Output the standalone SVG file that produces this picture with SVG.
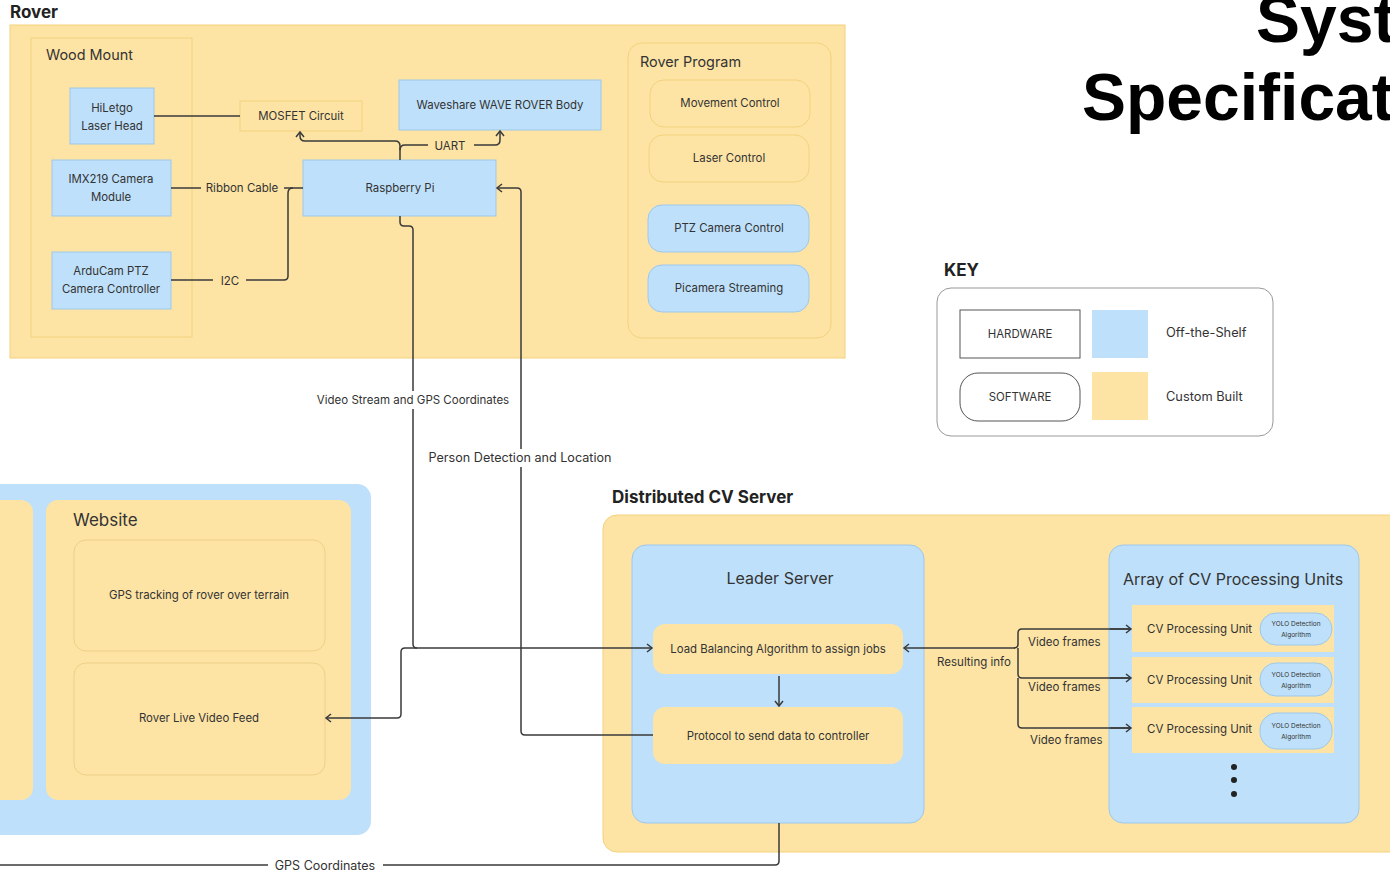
<svg xmlns="http://www.w3.org/2000/svg" width="1390" height="874" viewBox="0 0 1390 874">
<defs>
<style>
text{font-family:Inter,"Liberation Sans",Arial,sans-serif;fill:#333}
.y{fill:#FDE4A5}
.b{fill:#BEE0FA}
.ys{fill:#FDE4A5;stroke:#F2D27C;stroke-width:1}
.bs{fill:#BEE0FA;stroke:#9DC8EA;stroke-width:1}
.t{font-size:11.4px;text-anchor:middle}
.lbl{font-size:11.5px;text-anchor:middle}
.h{font-size:16px}
.c{fill:none;stroke:#3a3a3a;stroke-width:1.5}
.vf{font-size:11.5px}
</style>
<marker id="a" markerWidth="10" markerHeight="10" refX="7" refY="5" orient="auto" markerUnits="userSpaceOnUse">
<path d="M2,1 L7,5 L2,9" fill="none" stroke="#3a3a3a" stroke-width="1.5"/>
</marker>
</defs>
<rect width="1390" height="874" fill="#fff"/>

<g id="title">
<text x="1256" y="42" style="font-family:'Liberation Sans',Arial,sans-serif;font-size:66px;font-weight:bold;fill:#000">System</text>
<text x="1082" y="120" style="font-family:'Liberation Sans',Arial,sans-serif;font-size:66px;font-weight:bold;fill:#000">Specifications</text>
</g>

<g id="rover">
<text x="10" y="18" style="font-size:17px;font-weight:bold;fill:#222">Rover</text>
<rect x="10" y="25" width="835" height="333" class="ys"/>
</g>
<g id="wood-mount">
<rect x="31" y="38" width="161" height="299" class="ys"/>
<text x="46" y="60" style="font-size:14.4px">Wood Mount</text>
</g>
<g id="hiletgo">
<rect x="70" y="88" width="84" height="56" class="bs"/>
<text class="t" x="112" y="112">HiLetgo</text>
<text class="t" x="112" y="130">Laser Head</text>
</g>
<g id="imx219">
<rect x="52" y="160" width="119" height="56" class="bs"/>
<text class="t" x="111" y="183">IMX219 Camera</text>
<text class="t" x="111" y="201">Module</text>
</g>
<g id="arducam">
<rect x="52" y="252" width="119" height="57" class="bs"/>
<text class="t" x="111" y="275">ArduCam PTZ</text>
<text class="t" x="111" y="293">Camera Controller</text>
</g>
<g id="mosfet">
<rect x="240" y="101" width="122" height="30" class="ys"/>
<text class="t" x="301" y="120">MOSFET Circuit</text>
</g>
<g id="waveshare">
<rect x="399" y="80" width="202" height="50" class="bs"/>
<text class="t" x="500" y="109">Waveshare WAVE ROVER Body</text>
</g>
<g id="raspberry-pi">
<rect x="303" y="160" width="193" height="56" class="bs"/>
<text class="t" x="400" y="192">Raspberry Pi</text>
</g>
<g id="rover-program">
<rect x="628" y="43" width="203" height="295" rx="14" class="ys"/>
<text x="640" y="67" style="font-size:14.4px">Rover Program</text>
</g>
<g id="movement-control">
<rect x="650" y="80" width="160" height="47" rx="14" class="ys"/>
<text class="t" x="730" y="107">Movement Control</text>
</g>
<g id="laser-control">
<rect x="649" y="135" width="160" height="47" rx="14" class="ys"/>
<text class="t" x="729" y="162">Laser Control</text>
</g>
<g id="ptz-camera-control">
<rect x="648" y="205" width="161" height="47" rx="14" class="bs"/>
<text class="t" x="729" y="232">PTZ Camera Control</text>
</g>
<g id="picamera-streaming">
<rect x="648" y="265" width="161" height="47" rx="14" class="bs"/>
<text class="t" x="729" y="292">Picamera Streaming</text>
</g>

<g id="key">
<text x="944" y="276" style="font-size:17px;font-weight:bold;fill:#222">KEY</text>
<rect x="937" y="288" width="336" height="148" rx="14" fill="#fff" stroke="#999" stroke-width="1"/>
<rect x="960" y="310" width="120" height="48" fill="#fff" stroke="#555" stroke-width="1"/>
<text class="t" x="1020" y="338">HARDWARE</text>
<rect x="960" y="373" width="120" height="48" rx="18" fill="#fff" stroke="#555" stroke-width="1"/>
<text class="t" x="1020" y="401">SOFTWARE</text>
<rect x="1092" y="310" width="56" height="48" class="b"/>
<rect x="1092" y="372" width="56" height="48" class="y"/>
<text x="1166" y="337" style="font-size:12.8px">Off-the-Shelf</text>
<text x="1166" y="401" style="font-size:12.8px">Custom Built</text>
</g>

<g id="website-area">
<rect x="-20" y="484" width="391" height="351" rx="14" class="b"/>
<rect x="-20" y="500" width="53" height="300" rx="12" class="y"/>
</g>
<g id="website">
<rect x="46" y="500" width="305" height="300" rx="12" class="y"/>
<text x="73" y="526" style="font-size:17px">Website</text>
</g>
<g id="gps-tracking">
<rect x="74" y="540" width="251" height="111" rx="12" class="y" stroke="#EDCF86" stroke-width="1"/>
<text class="t" x="199" y="599">GPS tracking of rover over terrain</text>
</g>
<g id="live-video">
<rect x="74" y="663" width="251" height="112" rx="12" class="y" stroke="#EDCF86" stroke-width="1"/>
<text class="t" x="199" y="722">Rover Live Video Feed</text>
</g>

<g id="distributed-cv-server">
<text x="612" y="503" style="font-size:17px;font-weight:bold;fill:#222">Distributed CV Server</text>
<rect x="603" y="515" width="800" height="337" rx="14" class="ys"/>
</g>
<g id="leader-server">
<rect x="632" y="545" width="292" height="278" rx="14" class="bs"/>
<text class="h" x="780" y="584" text-anchor="middle">Leader Server</text>
</g>
<g id="load-balancing">
<rect x="653" y="624" width="250" height="50" rx="12" class="y"/>
<text class="t" x="778" y="653">Load Balancing Algorithm to assign jobs</text>
</g>
<g id="protocol">
<rect x="653" y="707" width="250" height="57" rx="12" class="y"/>
<text class="t" x="778" y="740">Protocol to send data to controller</text>
</g>
<g id="cv-array">
<rect x="1109" y="545" width="250" height="278" rx="14" class="bs"/>
<text class="h" x="1233" y="585" text-anchor="middle">Array of CV Processing Units</text>
<circle cx="1234" cy="767" r="3" fill="#222"/>
<circle cx="1234" cy="780" r="3" fill="#222"/>
<circle cx="1234" cy="794" r="3" fill="#222"/>
</g>
<g id="cv-unit-1">
<rect x="1132" y="605" width="202" height="47" class="y"/>
<text x="1147" y="633" class="vf">CV Processing Unit</text>
<rect x="1260" y="613" width="72" height="32" rx="16" class="bs"/>
<text x="1296" y="626" style="font-size:6.5px" text-anchor="middle">YOLO Detection</text>
<text x="1296" y="637" style="font-size:6.5px" text-anchor="middle">Algorithm</text>
</g>
<g id="cv-unit-2">
<rect x="1132" y="657" width="202" height="46" class="y"/>
<text x="1147" y="684" class="vf">CV Processing Unit</text>
<rect x="1260" y="663" width="72" height="33" rx="16" class="bs"/>
<text x="1296" y="677" style="font-size:6.5px" text-anchor="middle">YOLO Detection</text>
<text x="1296" y="688" style="font-size:6.5px" text-anchor="middle">Algorithm</text>
</g>
<g id="cv-unit-3">
<rect x="1132" y="707" width="202" height="46" class="y"/>
<text x="1147" y="733" class="vf">CV Processing Unit</text>
<rect x="1260" y="713" width="72" height="36" rx="17" class="bs"/>
<text x="1296" y="728" style="font-size:6.5px" text-anchor="middle">YOLO Detection</text>
<text x="1296" y="739" style="font-size:6.5px" text-anchor="middle">Algorithm</text>
</g>

<g id="connectors">
<path class="c" d="M154,116 H240"/>
<path class="c" d="M171,188 H201"/>
<text class="lbl" x="242" y="192">Ribbon Cable</text>
<path class="c" d="M284,188 H303"/>
<path class="c" d="M171,280 H213"/>
<text class="lbl" x="230" y="285">I2C</text>
<path class="c" d="M246,280 H284 Q288,280 288,276 V193 Q288,188 293,188"/>
<path class="c" d="M400,160 V146 Q400,141 395,141 H305 Q300,141 300,136 V132" marker-end="url(#a)"/>
<path class="c" d="M400,150 Q400,145 405,145 H428"/>
<text class="lbl" x="450" y="150">UART</text>
<path class="c" d="M474,145 H495 Q500,145 500,140 V131" marker-end="url(#a)"/>
<path class="c" d="M400,216 V222 Q400,226 404,226 H409 Q413,226 413,230 V391"/>
<text class="lbl" x="413" y="404">Video Stream and GPS Coordinates</text>
<path class="c" d="M413,409 V644 Q413,648 417,648"/>
<path class="c" d="M405,648 H652" marker-end="url(#a)"/>
<path class="c" d="M405,648 Q401,648 401,652 V714 Q401,718 397,718 H326" marker-end="url(#a)"/>
<path class="c" d="M653,735 H525 Q521,735 521,731 V467"/>
<text x="520" y="462" style="font-size:12.6px" text-anchor="middle">Person Detection and Location</text>
<path class="c" d="M521,449 V192 Q521,188 517,188 H497" marker-end="url(#a)"/>
<path class="c" d="M779,676 V706" marker-end="url(#a)"/>
<path class="c" d="M779,823 V861 Q779,865 775,865 H383"/>
<text x="325" y="870" style="font-size:12.5px" text-anchor="middle">GPS Coordinates</text>
<path class="c" d="M268,865 H0"/>
<path class="c" d="M1015,648 H904" marker-end="url(#a)"/>
<path class="c" d="M1131,629 H1022 Q1018,629 1018,633 V644 Q1018,648 1014,648 M1018,648 V674 Q1018,678 1022,678 H1131 M1018,678 V724 Q1018,728 1022,728 H1131"/>
<path class="c" d="M1110,629 H1131" marker-end="url(#a)"/>
<path class="c" d="M1110,678 H1131" marker-end="url(#a)"/>
<path class="c" d="M1110,728 H1131" marker-end="url(#a)"/>
<text x="974" y="666" class="vf" text-anchor="middle">Resulting info</text>
<text x="1028" y="646" class="vf">Video frames</text>
<text x="1028" y="691" class="vf">Video frames</text>
<text x="1030" y="744" class="vf">Video frames</text>
</g>
</svg>
